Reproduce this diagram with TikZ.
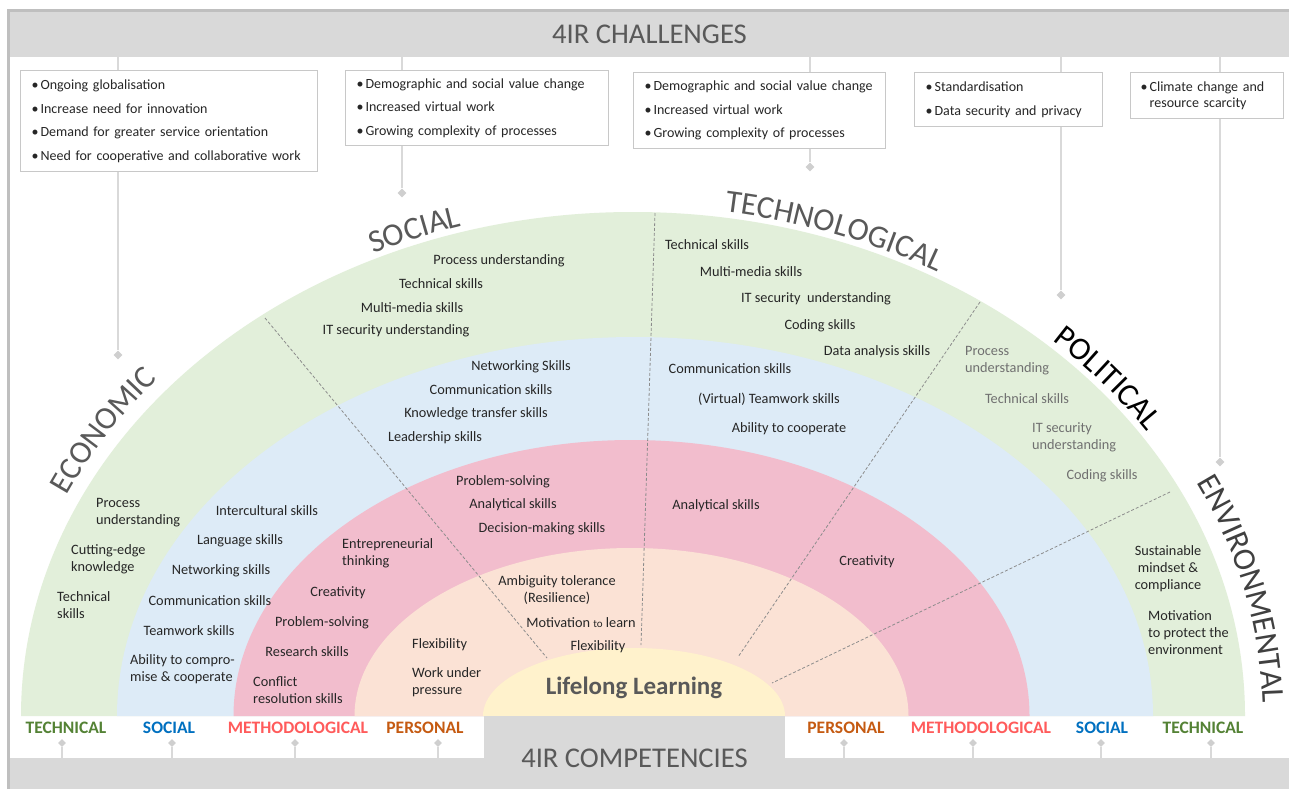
\documentclass[tikz,border=0pt]{standalone}
\usepackage{fontspec}
\setmainfont{Carlito}
\usetikzlibrary{decorations.text,shapes.geometric}

\definecolor{framegray}{HTML}{BFBFBF}
\definecolor{bargray}{HTML}{D9D9D9}
\definecolor{diagray}{HTML}{CFCFCF}
\definecolor{boxgray}{HTML}{C8C8C8}
\definecolor{titlegray}{HTML}{595959}
\definecolor{envgray}{HTML}{404040}
\definecolor{bandgreen}{HTML}{E2EFDA}
\definecolor{bandblue}{HTML}{DDEBF7}
\definecolor{bandpink}{HTML}{F2BDCD}
\definecolor{bandpeach}{HTML}{FBE2D5}
\definecolor{bandyellow}{HTML}{FFF2CC}
\definecolor{txtdark}{HTML}{262626}
\definecolor{txtgray}{HTML}{707070}
\definecolor{techgreen}{HTML}{548235}
\definecolor{socblue}{HTML}{0070C0}
\definecolor{methred}{HTML}{FF5B5B}
\definecolor{persorange}{HTML}{C55A11}
\definecolor{dashgray}{HTML}{8C8C8C}

\newcommand\labfont{\fontsize{32}{38}\selectfont}
\newcommand\bul{\makebox[9pt][l]{\textbullet}}

\tikzset{
  sk/.style={font=\fontsize{14.3}{17}\selectfont, text=txtdark, inner sep=0pt, align=center},
  skl/.style={sk, align=left, anchor=west},
  skg/.style={sk, text=txtgray},
  sklg/.style={skl, text=txtgray},
  chbox/.style={draw=boxgray, fill=white, line width=1.2pt, align=left,
    font=\fontsize{14}{23.5}\selectfont, text=txtdark,
    inner xsep=11pt, inner ysep=0pt, anchor=north west},
  conn/.style={draw=bargray, line width=2.2pt},
  dia/.style={diamond, fill=diagray, inner sep=0pt, minimum size=9pt},
  divider/.style={draw=dashgray, line width=0.8pt, dash pattern=on 3pt off 2pt},
  botlab/.style={font=\bfseries\fontsize{17.5}{20}\selectfont, inner sep=0pt},
  bartitle/.style={font=\fontsize{28.6}{32}\selectfont, text=titlegray, inner sep=0pt},
  arclab/.style={decorate, decoration={text along path, text align=center, text={|\labfont|#1}}},
}

\begin{document}
\begin{tikzpicture}[x=1pt, y=-1pt]
\useasboundingbox (0,0) rectangle (1289,789);
\fill[white] (0,0) rectangle (1289,789);

% half-ellipse bands of competencies
\fill[bandgreen]  ([shift={(633,716)}]180:612pt and 504pt) arc[start angle=180, end angle=0, x radius=612pt, y radius=504pt] -- cycle;
\fill[bandblue]   ([shift={(635,716)}]180:518pt and 379pt) arc[start angle=180, end angle=0, x radius=518pt, y radius=379pt] -- cycle;
\fill[bandpink]   ([shift={(631.5,716)}]180:398pt and 276pt) arc[start angle=180, end angle=0, x radius=398pt, y radius=276pt] -- cycle;
\fill[bandpeach]  ([shift={(631.5,716)}]180:277pt and 168pt) arc[start angle=180, end angle=0, x radius=277pt, y radius=168pt] -- cycle;
\fill[bandyellow] ([shift={(634,716)}]180:151pt and 68pt) arc[start angle=180, end angle=0, x radius=151pt, y radius=68pt] -- cycle;

% section dividers
\coordinate (dA1) at (265,318); \coordinate (dA2) at (547,658);
\coordinate (dB1) at (655,213); \coordinate (dB2) at (641,645);
\coordinate (dC1) at (980,302); \coordinate (dC2) at (738,657);
\coordinate (dD1) at (1170,492); \coordinate (dD2) at (772,683);
\draw[divider] (dA1) -- (dA2);
\draw[divider] (dB1) -- (dB2);
\draw[divider] (dC1) -- (dC2);
\draw[divider] (dD1) -- (dD2);

% challenge areas written along the outer arc
\path[arclab=ECONOMIC, decoration={text color=titlegray}]
  ([shift={(633,716)}]173:626pt and 518pt) arc[start angle=173, end angle=123, x radius=626pt, y radius=518pt];
\path[arclab=SOCIAL, decoration={text color=titlegray}]
  ([shift={(633,716)}]135.5:618pt and 510pt) arc[start angle=135.5, end angle=86.5, x radius=618pt, y radius=510pt];
\path[arclab=TECHNOLOGICAL, decoration={text color=titlegray}]
  ([shift={(633,716)}]99:618pt and 510pt) arc[start angle=99, end angle=41.8, x radius=618pt, y radius=510pt];
\path[arclab=POLITICAL, decoration={text color=black}]
  ([shift={(633,716)}]64:619pt and 511pt) arc[start angle=64, end angle=15.4, x radius=619pt, y radius=511pt];
\path[arclab=ENVIRONMENTAL, decoration={text color=envgray}]
  ([shift={(633,716)}]40:630pt and 522pt) arc[start angle=40, end angle=-12.8, x radius=630pt, y radius=522pt];

% frame and bars
\node[fill=bargray, inner sep=0pt, minimum width=1279pt, minimum height=45pt, bartitle] (topbar) at (649.5,34.5) {4IR CHALLENGES};
\draw[framegray, line width=3pt] (8.5,789) -- (8.5,10.5) -- (1289,10.5);
\node[fill=bargray, inner sep=0pt, minimum width=1279pt, minimum height=31pt] (botbar) at (649.5,773.5) {};
\node[fill=bargray, inner sep=0pt, minimum width=301pt, minimum height=73pt] (compbox) at (634.5,752.5) {};
\node[bartitle] (comptitle) at (634.5,758) {4IR COMPETENCIES};
\draw[framegray, line width=3pt] (8.5,716) -- (8.5,789);

% challenge boxes
\node[chbox, text width=275pt, minimum height=101pt] (b1) at (20,70)
  {\bul Ongoing globalisation\\ \bul Increase need for innovation\\ \bul Demand for greater service orientation\\ \bul Need for cooperative and collaborative work};
\node[chbox, text width=241pt, minimum height=75pt] (b2) at (345,70)
  {\bul Demographic and social value change\\ \bul Increased virtual work\\ \bul Growing complexity of processes};
\node[chbox, text width=230pt, minimum height=76pt] (b3) at (633,72)
  {\bul Demographic and social value change\\ \bul Increased virtual work\\ \bul Growing complexity of processes};
\node[chbox, text width=166pt, minimum height=54pt] (b4) at (914,72)
  {\bul Standardisation\\ \bul Data security and privacy};
\node[chbox, text width=133pt, minimum height=46pt, inner xsep=10pt] (b5) at (1130,72)
  {\bul Climate change and\\[-7.5pt]\hspace*{9pt}resource scarcity};

% connectors from the challenge bar through the boxes to the arc
\node[dia] (d1) at (118,355) {};
\node[dia] (d2) at (402,193) {};
\node[dia] (d3) at (810,167) {};
\node[dia] (d4) at (1061,295) {};
\node[dia] (d5) at (1220,462) {};
\draw[conn] (topbar.south -| d1) -- (b1.north -| d1);
\draw[conn] (b1.south -| d1) -- (d1.north);
\draw[conn] (topbar.south -| d2) -- (b2.north -| d2);
\draw[conn] (b2.south -| d2) -- (d2.north);
\draw[conn] (topbar.south -| d3) -- (b3.north -| d3);
\draw[conn] (b3.south -| d3) -- (d3.north);
\draw[conn] (topbar.south -| d4) -- (b4.north -| d4);
\draw[conn] (b4.south -| d4) -- (d4.north);
\draw[conn] (topbar.south -| d5) -- (b5.north -| d5);
\draw[conn] (b5.south -| d5) -- (d5.north);

% competency labels with their connectors
\node[botlab, text=techgreen]  (l1) at (66,728)  {TECHNICAL};
\node[botlab, text=socblue]    (l2) at (169,728) {SOCIAL};
\node[botlab, text=methred]    (l3) at (298,728) {METHODOLOGICAL};
\node[botlab, text=persorange] (l4) at (425,728) {PERSONAL};
\node[botlab, text=persorange] (r4) at (846,728) {PERSONAL};
\node[botlab, text=methred]    (r3) at (981,728) {METHODOLOGICAL};
\node[botlab, text=socblue]    (r2) at (1102,728) {SOCIAL};
\node[botlab, text=techgreen]  (r1) at (1203,728) {TECHNICAL};
\foreach \n/\x in {e1/62, e2/172, e3/295, e4/438, e5/844, e6/973, e7/1101, e8/1211}{
  \node[dia, minimum size=8pt] (\n) at (\x,743) {};
  \draw[conn, line width=2pt] (\n.south) -- (\n |- botbar.north);
}

% economic
\node[skl] (ec1) at (96,512.5) {Process\\understanding};
\node[skl] (ec2) at (71,559.5) {Cutting-edge\\knowledge};
\node[skl] (ec3) at (57,605.5) {Technical\\skills};
\node[sk] (ec4) at (267,511) {Intercultural skills};
\node[sk] (ec5) at (240,541) {Language skills};
\node[sk] (ec6) at (221,571) {Networking skills};
\node[sk] (ec7) at (210,601) {Communication skills};
\node[sk] (ec8) at (189,631) {Teamwork skills};
\node[skl] (ec9) at (130,669.5) {Ability to compro-\\mise \& cooperate};
\node[skl] (ec10) at (342,553.5) {Entrepreneurial\\thinking};
\node[sk] (ec11) at (338,593) {Creativity};
\node[sk] (ec12) at (322,623) {Problem-solving};
\node[sk] (ec13) at (307,652) {Research skills};
\node[skl] (ec14) at (253,690.5) {Conflict\\resolution skills};
\node[skl] (ec15) at (412,645) {Flexibility};
\node[skl] (ec16) at (412,682.5) {Work under\\pressure};

% social
\node[sk] (so1) at (499,261) {Process understanding};
\node[sk] (so2) at (441,284) {Technical skills};
\node[sk] (so3) at (412,308) {Multi-media skills};
\node[sk] (so4) at (396,331) {IT security understanding};
\node[sk] (so5) at (521,367) {Networking Skills};
\node[sk] (so6) at (491,390) {Communication skills};
\node[sk] (so7) at (476,414) {Knowledge transfer skills};
\node[sk] (so8) at (435,438) {Leadership skills};
\node[sk] (so9) at (503,482) {Problem-solving};
\node[sk] (so10) at (513,505) {Analytical skills};
\node[sk] (so11) at (542,529) {Decision-making skills};
\node[sk] (so12) at (557,590.5) {Ambiguity tolerance\\(Resilience)};
\node[sk] (so13) at (581,623) {Motivation {\fontsize{11}{12}\selectfont to} learn};
\node[sk] (so14) at (598,647) {Flexibility};

% technological
\node[sk] (te1) at (707,245) {Technical skills};
\node[sk] (te2) at (751,272) {Multi-media skills};
\node[sk] (te3) at (816,299) {IT security\ \ understanding};
\node[sk] (te4) at (820,326) {Coding skills};
\node[sk] (te5) at (877,352) {Data analysis skills};
\node[sk] (te6) at (730,369) {Communication skills};
\node[sk] (te7) at (769,399) {(Virtual) Teamwork skills};
\node[sk] (te8) at (789,429) {Ability to cooperate};
\node[sk] (te9) at (716,506) {Analytical skills};
\node[sk] (te10) at (867,562) {Creativity};

% political
\node[sklg] (po1) at (965,360.5) {Process\\understanding};
\node[skg] (po2) at (1027,399) {Technical skills};
\node[sklg] (po3) at (1032,437.5) {IT security\\understanding};
\node[skg] (po4) at (1102,476) {Coding skills};

% environmental
\node[sk] (en1) at (1168,569) {Sustainable\\mindset \&\\compliance};
\node[skl] (en2) at (1148,633) {Motivation\\to protect the\\environment};

% centre
\node[font=\bfseries\fontsize{25}{30}\selectfont, text=titlegray, inner sep=0pt] (life) at (634,688) {Lifelong Learning};
\end{tikzpicture}
\end{document}
